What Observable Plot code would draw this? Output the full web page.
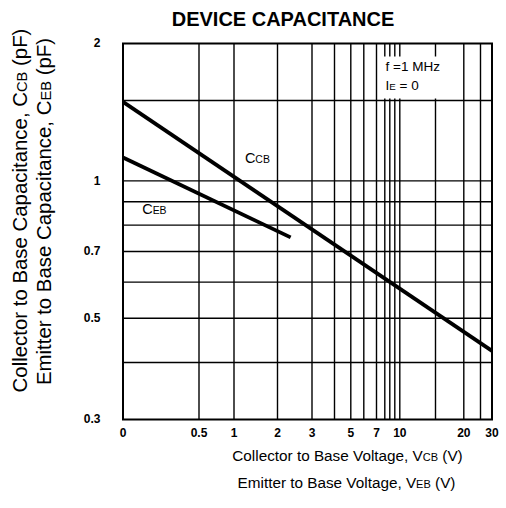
<!DOCTYPE html>
<html>
<head>
<meta charset="utf-8">
<script src="https://cdn.jsdelivr.net/npm/d3@7"></script>
<script src="https://cdn.jsdelivr.net/npm/@observablehq/plot@0.6"></script>
<style>
  html, body { margin: 0; padding: 0; background: white; }
</style>
</head>
<body>
<div id="chart"></div>
<script>
// ---- data ----
const seriesNames = ["CCB", "CEB"];
const ccbVoltage = [0, 30];          // V
const ccbCap = [1.49, 0.424];        // pF
const cebVoltage = [0, 2.38];        // V
const cebCap = [1.125, 0.752];       // pF

const xTicks = [0, 0.5, 1, 2, 3, 5, 7, 10, 20, 30];
const xGrid = [0, 0.5, 1, 2, 3, 4, 5, 6, 7, 8, 9, 9.5, 10, 15, 20, 25, 30];
const yTicks = [0.3, 0.5, 0.7, 1, 2];
const yGrid = [0.4, 0.5, 0.6, 0.7, 0.8, 0.9, 1, 1.5];

const curveLabels = [
  {text: "C_{CB}", v: 1.25, c: 1.12},
  {text: "C_{EB}", v: 0.126, c: 0.865}
];
const notes = ["f =1 MHz", "I_{E} = 0"];
const title = "DEVICE CAPACITANCE";
const xLabels = ["Collector to Base Voltage, V_{CB} (V)", "Emitter to Base Voltage, V_{EB} (V)"];
const yLabels = ["Collector to Base Capacitance, C_{CB} (pF)", "Emitter to Base Capacitance, C_{EB} (pF)"];

// ---- build tables ----
const curves = [
  ...ccbVoltage.map((v, i) => ({series: seriesNames[0], v, c: ccbCap[i]})),
  ...cebVoltage.map((v, i) => ({series: seriesNames[1], v, c: cebCap[i]}))
];

// the chart's voltage axis is hand-drawn (not a pure log scale): piecewise scale
const xKnots = [0, 0.5, 1, 2, 3, 4, 5, 6, 7, 8, 9, 10, 15, 20, 25, 30];

const chart = Plot.plot({
  width: 506,
  height: 508,
  marginLeft: 122.5,
  marginRight: 14.5,
  marginTop: 43,
  marginBottom: 89,
  style: {fontFamily: "'Liberation Sans', Arial, Helvetica, sans-serif", background: "white", color: "black", overflow: "visible"},
  x: {type: "linear", domain: xKnots,
      range: [122.5, 198.5, 233.5, 277, 311.5, 334, 350.3, 363.3, 376, 384.3, 389.3, 399.3, 435, 463.3, 480, 491.5]},
  y: {type: "log", domain: [0.3, 2]},
  marks: [
    Plot.ruleX(xGrid, {stroke: "black", strokeWidth: 1.4}),
    Plot.ruleY(yGrid, {stroke: "black", strokeWidth: 1.4}),
    Plot.frame({stroke: "black", strokeWidth: 2}),
    Plot.text([notes[0]], {text: d => d, frameAnchor: "top-right", textAnchor: "start", lineAnchor: "bottom",
      dx: -106.5, dy: 27, fontSize: 13.5, fill: "black"}),
    Plot.text([notes[1]], {text: d => d, frameAnchor: "top-right", textAnchor: "start", lineAnchor: "bottom",
      dx: -106.5, dy: 46, fontSize: 13.5, fill: "black"}),
    Plot.line(curves, {x: "v", y: "c", z: "series", stroke: "black", strokeWidth: 3.8, strokeLinecap: "butt"}),
    Plot.text(curveLabels, {x: "v", y: "c", text: "text", textAnchor: "start", lineAnchor: "middle", fontSize: 14.5, fill: "black"}),
    Plot.axisX(xTicks, {anchor: "bottom", tickSize: 0, tickPadding: 9, tickFormat: d => String(d), fontSize: 12, fontWeight: "bold", label: null}),
    Plot.axisY(yTicks, {anchor: "left", tickSize: 0, tickPadding: 22.5, tickFormat: d => String(d), fontSize: 12, fontWeight: "bold", label: null}),
    Plot.text([title], {text: d => d, frameAnchor: "top", lineAnchor: "bottom", dx: -24.5, dy: -18, fontSize: 20, fontWeight: "bold"}),
    Plot.text([xLabels[0]], {text: d => d, frameAnchor: "bottom", textAnchor: "middle", lineAnchor: "bottom", dx: 40, dy: 41, fontSize: 15.3}),
    Plot.text([xLabels[1]], {text: d => d, frameAnchor: "bottom", textAnchor: "middle", lineAnchor: "bottom", dx: 39, dy: 68, fontSize: 15.3}),
    Plot.text([yLabels[0]], {text: d => d, frameAnchor: "left", textAnchor: "middle", rotate: -90, lineAnchor: "bottom", dx: -96.5, dy: -21, fontSize: 20.4}),
    Plot.text([yLabels[1]], {text: d => d, frameAnchor: "left", textAnchor: "middle", rotate: -90, lineAnchor: "bottom", dx: -72.5, dy: -20, fontSize: 20.4})
  ]
});

// subscripts as real text in tspans
const NS = "http://www.w3.org/2000/svg";
const plain = s => s.replace(/_\{([^}]*)\}/g, "$1");
chart.querySelectorAll("text").forEach(t => {
  const s = t.textContent;
  if (!s.includes("_{")) return;
  const parts = s.split(/(_\{[^}]*\})/);
  t.textContent = "";
  for (const p of parts) {
    if (!p) continue;
    const ts = document.createElementNS(NS, "tspan");
    if (p.startsWith("_{")) { ts.textContent = p.slice(2, -1); ts.setAttribute("font-size", "72%"); }
    else ts.textContent = p;
    t.appendChild(ts);
  }
});

document.getElementById("chart").appendChild(chart);

// white box behind the test-condition note (as in the reference)
const noteSet = new Set(notes.map(plain));
const noteTexts = [...chart.querySelectorAll("text")].filter(t => noteSet.has(t.textContent));
if (noteTexts.length) {
  const sb = chart.getBoundingClientRect();
  let x0 = Infinity, y0 = Infinity, x1 = -Infinity, y1 = -Infinity;
  for (const t of noteTexts) {
    const b = t.getBoundingClientRect();
    x0 = Math.min(x0, b.left - sb.left); y0 = Math.min(y0, b.top - sb.top);
    x1 = Math.max(x1, b.right - sb.left); y1 = Math.max(y1, b.bottom - sb.top);
  }
  const r = document.createElementNS(NS, "rect");
  r.setAttribute("x", x0 - 5); r.setAttribute("y", y0 - 2);
  r.setAttribute("width", x1 - x0 + 9); r.setAttribute("height", y1 - y0 + 8);
  r.setAttribute("fill", "white");
  const firstG = noteTexts[0].closest("g");
  firstG.parentNode.insertBefore(r, firstG);
}
</script>
</body>
</html>
